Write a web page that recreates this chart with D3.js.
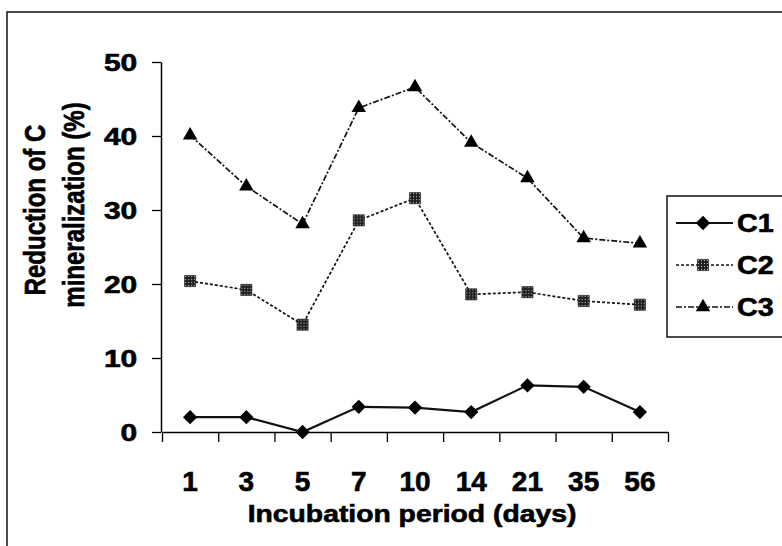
<!DOCTYPE html>
<html>
<head>
<meta charset="utf-8">
<script src="https://cdn.jsdelivr.net/npm/d3@7"></script>
<style>
  body { margin: 0; background: #fff; }
  svg text { font-family: "Liberation Sans", Arial, sans-serif; font-weight: bold; fill: #000; stroke: #000; stroke-width: 0.6px; }
</style>
</head>
<body>
<svg id="chart" width="782" height="546"></svg>
<script>
// values
const days = ["1", "3", "5", "7", "10", "14", "21", "35", "56"];
const c1 = [2.0, 2.0, 0.0, 3.4, 3.3, 2.7, 6.3, 6.1, 2.7];
const c2 = [20.4, 19.2, 14.5, 28.6, 31.6, 18.6, 18.9, 17.7, 17.2];
const c3 = [40.1, 33.2, 28.1, 43.8, 46.6, 39.1, 34.3, 26.2, 25.5];
const yTicks = [0, 10, 20, 30, 40, 50];
const seriesNames = ["C1", "C2", "C3"];

const svg = d3.select("#chart"),
      margin = { top: 62, right: 114, bottom: 114, left: 162 },
      width = +svg.attr("width"),
      height = +svg.attr("height");

// checkered fill for C2 squares
const defs = svg.append("defs");
const pat = defs.append("pattern")
  .attr("id", "checker")
  .attr("width", 3).attr("height", 3)
  .attr("patternUnits", "userSpaceOnUse");
pat.append("rect").attr("width", 3).attr("height", 3).attr("fill", "#222");
pat.append("rect").attr("x", 1).attr("y", 1).attr("width", 1).attr("height", 1).attr("fill", "#bbb");

// outer frame (runs off right/bottom edge like the scan)
svg.append("rect")
  .attr("x", 7).attr("y", 12)
  .attr("width", 800).attr("height", 560)
  .attr("fill", "none").attr("stroke", "#111").attr("stroke-width", 1.5);

const x = d3.scaleBand()
  .domain(days)
  .range([margin.left, width - margin.right]);

const xb = d3.scaleLinear()
  .domain([0, days.length])
  .range([margin.left, width - margin.right]);

const y = d3.scaleLinear()
  .domain([0, 50])
  .range([height - margin.bottom, margin.top]);

// y axis
const yAxis = svg.append("g")
  .attr("transform", `translate(${margin.left - 1},0)`)
  .call(d3.axisLeft(y).tickValues(yTicks).tickSize(9).tickSizeOuter(0));
yAxis.select(".domain").attr("stroke", "#000").attr("stroke-width", 1.5);
yAxis.selectAll(".tick line").attr("stroke", "#000").attr("stroke-width", 1.3);
yAxis.selectAll(".tick text")
  .attr("font-size", 24)
  .attr("x", -19)
  .attr("dy", "0.36em")
  .attr("transform", "scale(1.25,1)");

// x axis: ticks at category boundaries, labels at centres
const xTicksG = svg.append("g")
  .attr("transform", `translate(0,${height - margin.bottom})`)
  .call(d3.axisBottom(xb).tickValues(d3.range(days.length + 1)).tickSize(10).tickSizeOuter(0).tickFormat(""));
xTicksG.select(".domain").attr("stroke", "#000").attr("stroke-width", 1.5);
xTicksG.selectAll(".tick line").attr("stroke", "#000").attr("stroke-width", 1.3);

const xLab = svg.append("g")
  .attr("transform", `translate(0,${height - margin.bottom})`)
  .call(d3.axisBottom(x).tickSize(0).tickPadding(0));
xLab.select(".domain").remove();
xLab.selectAll(".tick text")
  .attr("font-size", 28)
  .attr("y", 59)
  .attr("dy", 0);

// axis titles
svg.append("text")
  .attr("transform", "translate(412,522) scale(1.18,1)")
  .attr("text-anchor", "middle")
  .attr("font-size", 24)
  .text("Incubation period (days)");

svg.append("text")
  .attr("transform", "translate(45,210) scale(1.2,1) rotate(-90)")
  .attr("text-anchor", "middle")
  .attr("font-size", 24)
  .text("Reduction of C");

svg.append("text")
  .attr("transform", "translate(84,205) scale(1.2,1) rotate(-90)")
  .attr("text-anchor", "middle")
  .attr("font-size", 24)
  .text("mineralization (%)");

// marker shapes
const diamond = d3.symbol().type(d3.symbolDiamond2).size(130);
const square = d3.symbol().type(d3.symbolSquare2).size(160);
const triangle = d3.symbol().type(d3.symbolTriangle2).size(150);

const series = [
  { name: "C1", values: c1, dash: null, width: 2.2, shape: diamond, fill: "#000" },
  { name: "C2", values: c2, dash: "3,2", width: 1.7, shape: square, fill: "url(#checker)" },
  { name: "C3", values: c3, dash: "6,2,2,2", width: 1.7, shape: triangle, fill: "#000" }
];

const line = d3.line()
  .x((d, i) => x(days[i]) + x.bandwidth() / 2)
  .y(d => y(d));

series.forEach(s => {
  svg.append("path")
    .datum(s.values)
    .attr("fill", "none")
    .attr("stroke", "#111")
    .attr("stroke-width", s.width)
    .attr("stroke-dasharray", s.dash)
    .attr("d", line);

  svg.append("g").selectAll("path")
    .data(s.values)
    .join("path")
    .attr("transform", (d, i) => `translate(${x(days[i]) + x.bandwidth() / 2},${y(d)})`)
    .attr("d", s.shape)
    .attr("fill", s.fill)
    .attr("stroke", s.name === "C2" ? "#222" : "none")
    .attr("stroke-width", 0.6);
});

// legend
const legend = svg.append("g");
legend.append("rect")
  .attr("x", 667).attr("y", 196)
  .attr("width", 140).attr("height", 141)
  .attr("fill", "#fff").attr("stroke", "#111").attr("stroke-width", 1.5);

const legY = d3.scalePoint().domain(seriesNames).range([223, 307]);

series.forEach(s => {
  const ly = legY(s.name);
  legend.append("line")
    .attr("x1", 676).attr("x2", 733)
    .attr("y1", ly).attr("y2", ly)
    .attr("stroke", "#111")
    .attr("stroke-width", s.width)
    .attr("stroke-dasharray", s.dash);
  legend.append("path")
    .attr("transform", `translate(703,${ly})`)
    .attr("d", s.shape)
    .attr("fill", s.fill)
    .attr("stroke", s.name === "C2" ? "#222" : "none")
    .attr("stroke-width", 0.6);
  legend.append("text")
    .attr("transform", `translate(737,${ly + 9}) scale(1.15,1)`)
    .attr("font-size", 25)
    .text(s.name);
});
</script>
</body>
</html>
